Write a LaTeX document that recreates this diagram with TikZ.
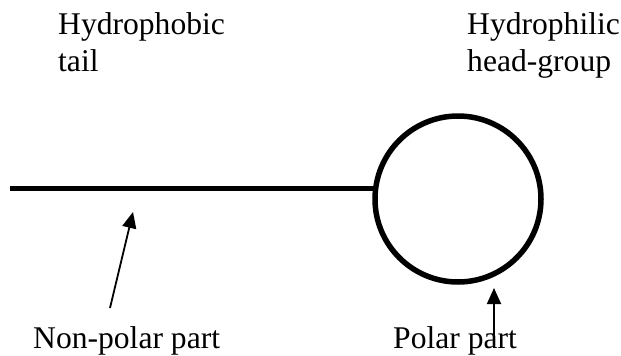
\documentclass[tikz,border=0pt]{standalone}
\usepackage{fontspec}
\setmainfont{Liberation Serif}
\usetikzlibrary{arrows.meta}
\begin{document}
\begin{tikzpicture}[x=1pt,y=-1pt,
  lbl/.style={anchor=base west,inner sep=0pt,font=\fontsize{31.6}{37}\selectfont},
  tailline/.style={line width=5pt},
  headcirc/.style={line width=5.5pt},
  pointer/.style={line width=1.8pt,-{Triangle[length=16pt,width=14pt]}}]
\useasboundingbox (0,0) rectangle (621,356);
\node[lbl] (t1) at (58,34) {Hydrophobic};
\node[lbl] (t2) at (58,71) {tail};
\node[lbl] (h1) at (467,34) {Hydrophilic};
\node[lbl] (h2) at (467,71) {head-group};
\node[lbl] (np) at (33,348) {Non-polar part};
\node[lbl] (pp) at (393,348) {Polar part};
\coordinate (c) at (458,199);
\coordinate (tl) at (10,188);
\coordinate (tr) at (376,188);
\draw[tailline] (tl) -- (tr);
\draw[headcirc] (c) circle[radius=83pt];
\coordinate (a1s) at (110,308);
\coordinate (a1e) at (133,212);
\coordinate (a2s) at (494,340);
\coordinate (a2e) at (494,288);
\draw[pointer] (a1s) -- (a1e);
\draw[pointer] (a2s) -- (a2e);
\end{tikzpicture}
\end{document}
